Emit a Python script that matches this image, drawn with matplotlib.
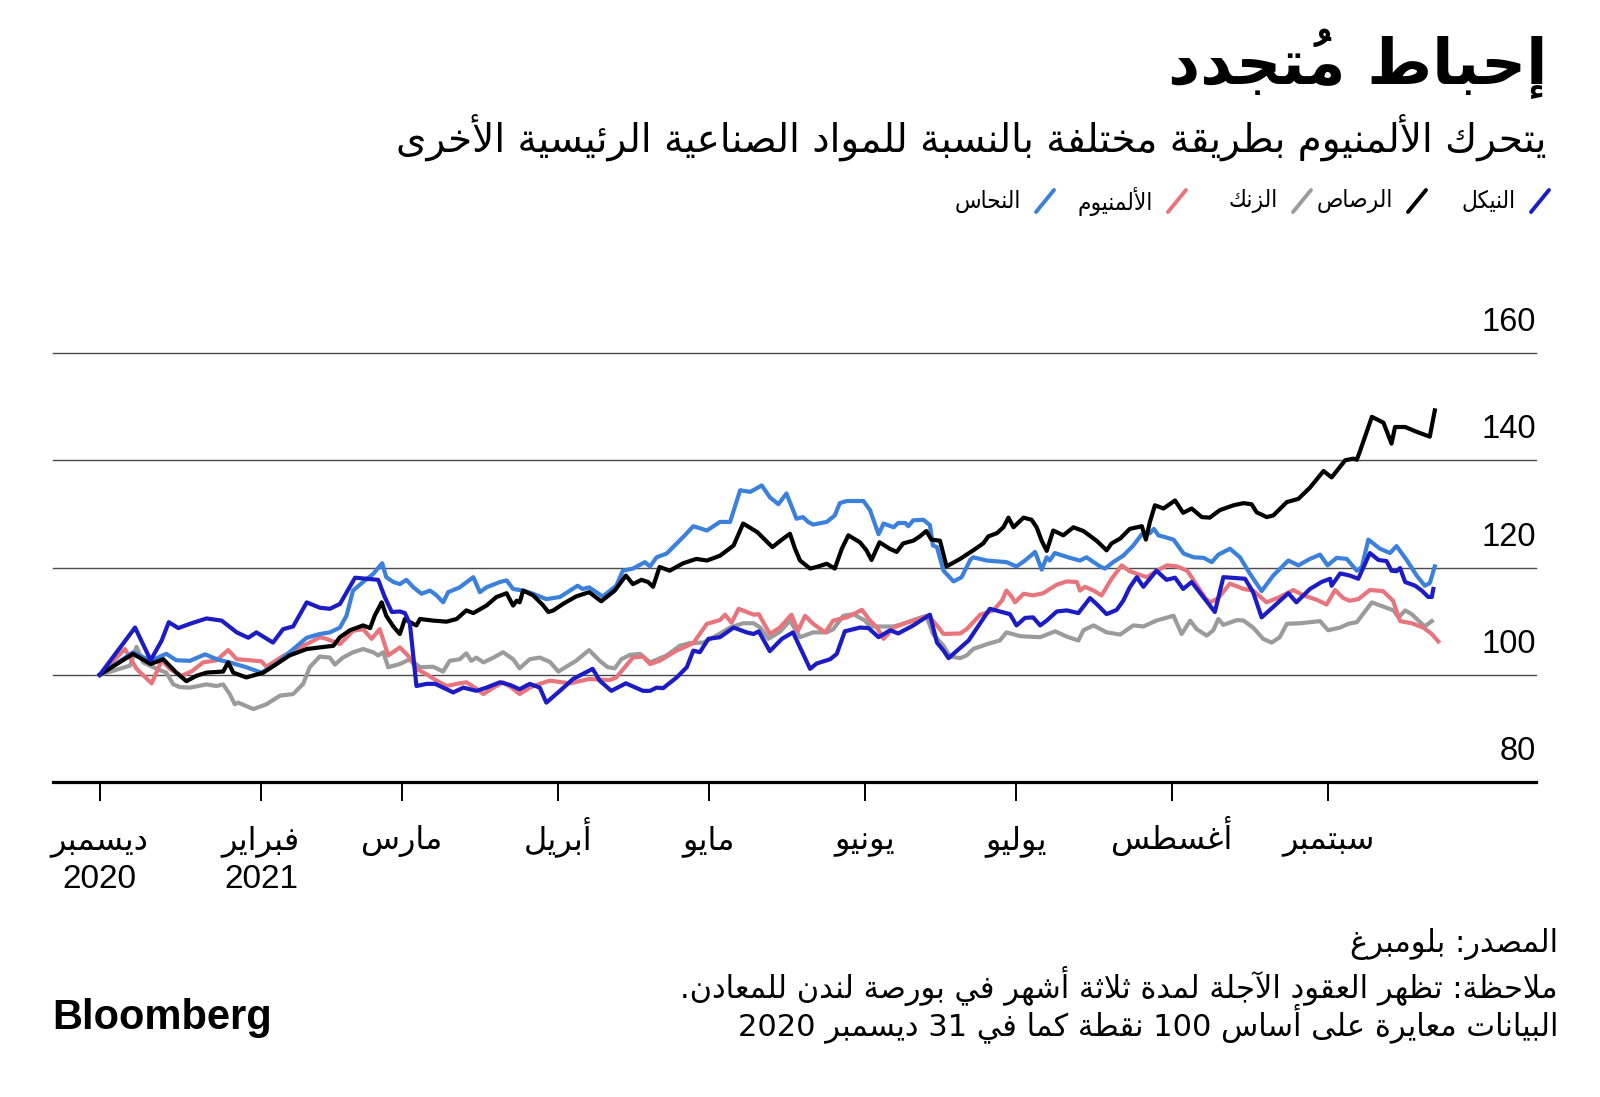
import matplotlib
matplotlib.use("Agg")
import matplotlib.pyplot as plt
import matplotlib.transforms as mtransforms
from matplotlib import font_manager as fm
from matplotlib.ft2font import FT2Font
from matplotlib.lines import Line2D
import pandas as pd

# ---- arabic shaping (matplotlib has no complex text layout) ----
BASE = {
    '\u0621': 0xFE80, '\u0622': 0xFE81, '\u0623': 0xFE83, '\u0624': 0xFE85,
    '\u0625': 0xFE87, '\u0626': 0xFE89, '\u0627': 0xFE8D, '\u0628': 0xFE8F,
    '\u0629': 0xFE93, '\u062A': 0xFE95, '\u062B': 0xFE99, '\u062C': 0xFE9D,
    '\u062D': 0xFEA1, '\u062E': 0xFEA5, '\u062F': 0xFEA9, '\u0630': 0xFEAB,
    '\u0631': 0xFEAD, '\u0632': 0xFEAF, '\u0633': 0xFEB1, '\u0634': 0xFEB5,
    '\u0635': 0xFEB9, '\u0636': 0xFEBD, '\u0637': 0xFEC1, '\u0638': 0xFEC5,
    '\u0639': 0xFEC9, '\u063A': 0xFECD, '\u0641': 0xFED1, '\u0642': 0xFED5,
    '\u0643': 0xFED9, '\u0644': 0xFEDD, '\u0645': 0xFEE1, '\u0646': 0xFEE5,
    '\u0647': 0xFEE9, '\u0648': 0xFEED, '\u0649': 0xFEEF, '\u064A': 0xFEF1,
}
RIGHT_ONLY = set('\u0622\u0623\u0624\u0625\u0627\u0629\u062F\u0630\u0631\u0632\u0648\u0649')
LAM_ALEF = {'\u0622': 0xFEF5, '\u0623': 0xFEF7, '\u0625': 0xFEF9, '\u0627': 0xFEFB}
MARKS = set(chr(c) for c in range(0x064B, 0x0653))


def jtype(item):
    kind, c, _ = item
    if kind == 'LA':
        return 'R'
    if c in BASE:
        if c == '\u0621':
            return 'U'
        return 'R' if c in RIGHT_ONLY else 'D'
    return 'U'


def shape_line(text):
    items = []
    i = 0
    while i < len(text):
        c = text[i]
        if c in MARKS and items:
            items[-1][2] += c
        elif c == '\u0644' and i + 1 < len(text) and text[i + 1] in LAM_ALEF:
            items.append(['LA', text[i + 1], ''])
            i += 1
        else:
            items.append(['C', c, ''])
        i += 1
    glyphs = []
    for k, it in enumerate(items):
        t = jtype(it)
        prev_j = k > 0 and jtype(items[k - 1]) == 'D' and t in ('D', 'R')
        next_j = t == 'D' and k + 1 < len(items) and jtype(items[k + 1]) in ('D', 'R')
        kind, c, marks = it
        if kind == 'LA':
            g = chr(LAM_ALEF[c] + (1 if prev_j else 0))
        elif c in BASE:
            b = BASE[c]
            if t == 'D':
                if prev_j and next_j:
                    b += 3
                elif next_j:
                    b += 2
                elif prev_j:
                    b += 1
            elif t == 'R' and prev_j:
                b += 1
            g = chr(b)
        else:
            g = c
        # zero-width mark drawn first so the base glyph sits under it
        glyphs.append((marks + g, c.isascii() and c.isalnum()))
    # simple bidi: rtl paragraph, ltr runs of digits/latin kept in order
    runs = []
    for g, ltr in glyphs:
        if runs and runs[-1][0] == ltr:
            runs[-1][1].append(g)
        else:
            runs.append((ltr, [g]))
    out = ''
    for ltr, gs in reversed(runs):
        out += ''.join(gs) if ltr else ''.join(reversed(gs))
    return out


def ar(text):
    return '\n'.join(shape_line(l) for l in text.split('\n'))


# ---- data: days since 31 Dec 2020, index (31 Dec 2020 = 100) ----
nickel_days = [0, 7.0, 10.1, 12.3, 13.7, 15.6, 17.9, 21.2, 24.2, 27.2, 29.5, 31.1, 34.4, 36.4,
               38.4, 41.1, 43.7, 45.7, 47.7, 50.7, 55.3, 56.6, 58.0, 59.6, 60.6, 61.6, 62.9,
               64.9, 66.6, 68.2, 70.2, 72.2, 74.8, 76.8, 79.5, 81.5, 83.4, 85.4, 87.4, 88.7,
               91.4, 94.0, 97.9, 99.3, 101.6, 104.5, 107.9, 109.3, 110.6, 111.9, 114.6, 116.6,
               117.9, 119.2, 120.9, 123.2, 125.9, 128.5, 129.9, 130.9, 133.1, 135.5, 137.7,
               141.1, 142.4, 145.1, 146.4, 148.0, 151.0, 152.7, 154.7, 157.0, 158.6, 161.6,
               164.9, 166.3, 167.6, 168.6, 172.6, 176.8, 180.8, 182.1, 183.8, 185.4, 186.8,
               188.1, 190.1, 192.1, 194.4, 196.7, 198.0, 200.0, 202.0, 203.3, 204.6, 206.0,
               207.3, 209.9, 211.9, 213.6, 215.2, 216.9, 219.2, 221.5, 223.2, 227.5, 229.1,
               230.8, 233.4, 236.1, 237.7, 240.4, 242.7, 244.4, 244.7, 246.4, 248.3, 250.0,
               252.3, 254.0, 255.6, 256.6, 257.6, 258.3, 259.3, 261.3, 262.6, 263.9, 264.6,
               264.9]
nickel = [100, 108.8, 102.7, 106.4, 109.8, 108.7, 109.5, 110.5, 110.1, 107.9, 106.9, 107.9,
          106.0, 108.5, 109.0, 113.5, 112.5, 112.3, 113.2, 118.1, 117.7, 114.5, 111.7, 111.8,
          111.5, 109.5, 97.9, 98.3, 98.3, 97.6, 96.7, 97.6, 97.0, 97.6, 98.6, 98.1, 97.3, 98.3,
          97.6, 94.8, 97.0, 99.2, 101.1, 98.9, 97.0, 98.4, 97.0, 97.0, 97.6, 97.5, 99.5, 101.4,
          104.5, 104.2, 106.7, 107.0, 108.8, 107.9, 107.6, 108.1, 104.4, 106.7, 107.9, 101.1,
          102.1, 102.9, 103.9, 108.1, 108.8, 108.7, 107.0, 108.3, 107.7, 109.2, 111.2, 106.0,
          104.5, 103.1, 106.4, 112.3, 111.3, 109.2, 110.6, 110.7, 109.2, 110.1, 111.8, 112.0,
          111.5, 114.3, 113.2, 111.3, 112.1, 113.8, 116.3, 118.2, 116.4, 119.4, 117.7, 118.1,
          116.0, 117.3, 114.5, 111.7, 118.2, 117.9, 115.4, 110.7, 112.9, 115.2, 113.5, 116.0,
          117.3, 117.9, 116.6, 118.9, 118.5, 117.9, 122.7, 121.4, 121.2, 119.4, 119.3, 119.9,
          117.3, 116.6, 115.7, 114.5, 114.5, 116.0]

lead_days = [0, 6.6, 10.1, 12.6, 15.2, 17.2, 19.2, 21.2, 24.5, 25.5, 26.5, 29.1, 32.5, 35.1,
             37.7, 41.1, 43.7, 46.4, 47.7, 49.7, 52.3, 53.7, 54.6, 56.0, 56.9, 58.3, 59.6, 60.6,
             61.6, 62.9, 63.6, 66.2, 68.9, 70.9, 72.8, 74.2, 76.8, 78.8, 80.8, 82.1, 82.8, 83.4,
             84.1, 86.1, 88.1, 89.1, 90.1, 92.0, 94.6, 97.2, 99.6, 102.3, 104.5, 105.9, 107.6,
             108.9, 109.9, 111.2, 113.2, 115.9, 118.5, 120.6, 123.2, 125.9, 127.8, 130.6, 133.6,
             135.5, 137.1, 138.1, 139.1, 141.1, 142.4, 144.4, 146.0, 147.4, 148.7, 151.0, 152.3,
             153.3, 154.9, 156.9, 158.3, 159.6, 161.6, 162.9, 164.2, 165.2, 166.9, 168.2, 170.9,
             173.5, 175.5, 176.5, 178.2, 179.5, 180.5, 181.5, 183.5, 185.1, 186.1, 187.1, 188.1,
             189.4, 191.4, 193.4, 195.4, 198.0, 200.0, 201.0, 202.7, 204.6, 207.0, 207.8, 208.6,
             209.6, 211.3, 213.6, 215.2, 216.9, 218.9, 220.5, 222.5, 225.2, 227.2, 228.8, 229.8,
             231.8, 233.1, 235.8, 238.1, 240.4, 243.1, 244.7, 247.4, 249.0, 249.7, 250.3, 252.7,
             255.0, 256.6, 257.3, 259.3, 261.6, 264.2, 265.2]
lead = [100, 103.9, 102.0, 102.9, 100.4, 98.8, 99.8, 100.4, 100.6, 102.3, 100.4, 99.5, 100.4,
        102.0, 103.6, 104.8, 105.1, 105.4, 107.0, 108.3, 109.2, 108.7, 111.0, 113.5, 111.0, 109.0,
        107.6, 110.4, 109.8, 109.2, 110.4, 110.1, 109.9, 110.4, 112.0, 111.5, 112.9, 114.5, 115.2,
        112.9, 113.8, 113.5, 115.7, 114.8, 112.9, 111.7, 112.0, 113.2, 114.6, 115.4, 113.7, 115.7,
        118.5, 116.9, 117.7, 117.3, 116.4, 120.1, 119.4, 120.8, 121.6, 121.3, 122.2, 124.1, 128.2,
        126.6, 123.8, 125.2, 126.3, 123.5, 121.3, 119.8, 120.1, 120.7, 119.8, 123.5, 126.0, 124.7,
        123.2, 121.4, 124.7, 123.5, 122.9, 124.5, 125.0, 125.8, 126.8, 125.2, 125.0, 120.2, 121.6,
        123.2, 124.5, 125.8, 126.4, 127.5, 129.3, 127.5, 129.3, 128.9, 127.5, 125.0, 123.1, 126.9,
        126.0, 127.5, 126.8, 125.0, 123.2, 124.5, 125.4, 127.2, 127.7, 125.2, 128.5, 131.6, 131.0,
        132.5, 130.2, 131.0, 129.4, 129.3, 130.7, 131.6, 132.0, 131.8, 130.3, 129.4, 129.7, 132.2,
        132.8, 134.9, 138.0, 136.8, 140.0, 140.3, 140.1, 141.6, 148.1, 147.0, 143.1, 146.2, 146.2,
        145.3, 144.4, 149.3]

zinc_days = [0, 6.0, 7.3, 8.6, 11.3, 13.2, 14.6, 15.9, 17.9, 21.2, 23.2, 24.5, 25.8, 26.8, 27.5,
             30.5, 33.1, 35.8, 38.4, 40.4, 41.7, 43.7, 45.7, 46.7, 48.3, 50.3, 52.3, 54.3, 55.3,
             56.3, 57.3, 59.6, 61.6, 63.6, 66.2, 68.2, 69.5, 71.5, 72.8, 73.8, 74.8, 76.2, 78.2,
             80.1, 82.1, 83.4, 85.4, 87.4, 89.4, 91.1, 94.6, 97.2, 99.3, 100.9, 102.3, 103.6,
             105.3, 107.3, 109.3, 112.6, 115.2, 117.2, 119.9, 122.5, 125.2, 127.8, 129.9, 131.2,
             132.8, 135.1, 137.1, 139.1, 141.7, 144.4, 145.7, 147.7, 149.7, 152.0, 153.0, 157.7,
             159.6, 161.6, 164.2, 165.5, 167.6, 168.9, 170.9, 172.2, 173.5, 176.2, 178.8, 180.1,
             182.8, 186.8, 189.8, 192.1, 194.4, 195.4, 197.4, 200.0, 202.7, 205.3, 207.3, 209.9,
             213.3, 214.9, 216.6, 217.9, 219.9, 221.2, 222.2, 223.2, 225.9, 227.2, 229.1, 231.1,
             232.8, 234.4, 235.8, 238.4, 242.4, 244.0, 246.4, 248.0, 249.7, 252.7, 255.0, 257.0,
             258.0, 259.3, 260.6, 263.2, 264.6]
zinc = [100, 101.7, 105.2, 102.3, 101.1, 100.4, 98.2, 97.7, 97.6, 98.2, 97.9, 98.2, 96.4, 94.5,
        94.8, 93.6, 94.5, 96.1, 96.4, 98.3, 101.4, 103.4, 103.2, 101.9, 103.2, 104.2, 104.8, 104.2,
        103.6, 104.2, 101.4, 102.0, 102.9, 101.4, 101.5, 100.6, 102.6, 102.9, 104.0, 102.6, 103.2,
        102.3, 103.2, 104.2, 102.9, 101.2, 102.9, 103.2, 102.4, 100.6, 102.6, 104.6, 102.6, 101.4,
        101.2, 102.9, 103.7, 103.9, 102.3, 103.6, 105.4, 105.9, 106.0, 107.3, 108.8, 109.6, 109.6,
        108.8, 106.7, 108.0, 110.1, 107.0, 107.9, 107.9, 108.5, 111.0, 111.3, 110.1, 109.0, 109.0,
        109.5, 110.2, 111.0, 107.6, 105.4, 103.4, 103.1, 103.6, 104.8, 105.7, 106.4, 107.9, 107.2,
        107.0, 108.1, 107.1, 106.4, 108.3, 109.2, 107.9, 107.5, 109.2, 109.0, 110.1, 111.0, 107.6,
        110.1, 108.5, 107.3, 108.3, 110.4, 109.3, 110.2, 110.1, 108.8, 106.7, 106.0, 107.0, 109.5,
        109.6, 110.0, 108.3, 108.8, 109.5, 109.8, 113.5, 112.7, 112.0, 110.7, 112.0, 111.3, 109.0,
        110.0]

aluminium_days = [0, 5.0, 7.3, 10.3, 12.3, 13.9, 16.2, 18.2, 20.5, 23.2, 25.5, 27.2, 29.8, 32.1,
                  33.1, 36.4, 39.1, 41.7, 43.7, 45.0, 47.7, 50.3, 52.3, 54.0, 55.6, 57.3, 59.6,
                  61.2, 62.9, 64.9, 66.9, 68.9, 70.9, 72.8, 74.5, 76.2, 78.2, 80.1, 81.8, 83.4,
                  85.4, 87.4, 89.4, 93.4, 97.2, 101.3, 102.6, 105.9, 107.9, 109.3, 111.2, 114.6,
                  117.9, 120.6, 123.2, 124.2, 125.5, 126.9, 129.9, 130.9, 133.1, 135.1, 137.4,
                  138.7, 140.1, 141.7, 144.1, 145.7, 148.4, 151.4, 153.0, 154.4, 155.7, 157.7,
                  159.6, 161.6, 164.6, 166.3, 167.6, 170.9, 172.2, 174.9, 177.5, 179.2, 180.1,
                  181.2, 181.8, 183.5, 185.4, 187.4, 190.1, 192.1, 194.1, 194.7, 195.7, 197.4,
                  199.0, 201.0, 203.0, 204.6, 207.0, 208.0, 210.0, 212.0, 214.0, 216.0, 217.3,
                  219.6, 220.6, 222.2, 224.5, 227.2, 229.1, 231.8, 234.4, 237.1, 239.1, 241.7,
                  243.7, 245.4, 247.0, 248.3, 250.0, 252.3, 254.9, 256.9, 258.3, 260.6, 262.9,
                  264.6, 265.9]
aluminium = [100, 104.8, 101.1, 98.4, 102.7, 101.1, 99.8, 100.6, 102.3, 102.7, 104.6, 102.9,
             102.7, 102.5, 101.5, 103.5, 104.8, 106.0, 107.0, 106.7, 105.7, 108.2, 108.5, 106.7,
             108.5, 103.6, 105.1, 103.6, 101.1, 100.1, 98.9, 97.9, 98.3, 98.6, 97.6, 96.4, 97.6,
             98.6, 97.6, 96.4, 97.6, 98.3, 98.9, 98.4, 99.2, 99.0, 99.5, 103.2, 103.4, 102.0, 102.6,
             104.5, 105.9, 109.5, 110.2, 111.2, 109.7, 112.3, 111.2, 111.3, 107.6, 108.8, 111.2,
             108.2, 111.0, 109.5, 107.9, 110.1, 110.7, 112.1, 110.1, 108.8, 106.7, 108.8, 109.5,
             110.1, 111.0, 109.2, 107.6, 107.7, 108.5, 111.2, 112.0, 113.8, 115.7, 114.5, 113.5,
             115.1, 114.8, 115.2, 116.8, 117.4, 117.3, 115.7, 116.4, 115.7, 114.8, 117.9, 120.4,
             119.3, 118.5, 118.2, 119.4, 120.4, 120.2, 119.4, 117.6, 114.3, 113.5, 114.3, 117.0,
             116.0, 115.7, 113.5, 114.5, 115.8, 114.8, 114.0, 113.1, 115.8, 114.3, 113.8, 114.1,
             115.8, 115.6, 113.8, 110.0, 109.6, 108.8, 107.6, 106.2]

copper_days = [0, 6.6, 10.1, 13.2, 15.2, 17.9, 20.9, 23.5, 25.8, 29.1, 32.1, 35.1, 37.7, 41.1,
               43.7, 45.7, 47.7, 49.0, 50.3, 52.3, 54.3, 56.1, 56.9, 58.3, 59.6, 60.9, 62.3,
               63.9, 65.6, 66.9, 68.2, 69.2, 71.5, 74.2, 75.5, 76.8, 79.5, 80.8, 82.1, 84.1,
               86.1, 88.7, 91.4, 94.9, 95.9, 97.2, 99.9, 102.6, 103.9, 105.9, 108.3, 109.3,
               110.6, 112.6, 115.9, 117.9, 120.6, 123.2, 125.2, 127.2, 129.2, 131.5, 133.1,
               134.8, 136.4, 138.4, 139.7, 140.7, 141.7, 144.4, 146.0, 147.0, 148.4, 151.7,
               153.0, 154.7, 155.7, 157.7, 158.6, 160.0, 160.6, 161.6, 163.6, 164.9, 165.5,
               166.3, 167.6, 169.6, 171.2, 172.9, 173.5, 176.2, 180.1, 182.1, 183.8, 185.8,
               187.1, 188.1, 188.7, 189.7, 192.7, 194.7, 196.0, 198.7, 199.7, 201.3, 203.3,
               205.3, 207.0, 208.6, 209.4, 210.3, 213.3, 215.3, 217.3, 219.3, 220.9, 222.2,
               224.5, 226.5, 228.5, 230.8, 233.1, 236.1, 238.1, 240.4, 242.4, 243.9, 245.7,
               247.7, 249.7, 250.7, 252.0, 254.3, 256.3, 257.6, 259.6, 261.6, 263.2, 264.2,
               265.2]
copper = [100, 104.2, 102.6, 103.9, 102.7, 102.6, 103.8, 102.8, 102.3, 101.4, 100.4, 102.0,
          104.2, 106.9, 107.6, 107.9, 108.8, 111.0, 115.7, 117.3, 118.8, 120.8, 118.2, 117.3,
          116.9, 117.7, 116.3, 115.1, 115.7, 114.8, 113.5, 115.4, 116.3, 118.2, 115.4, 116.3,
          117.3, 117.6, 116.0, 115.7, 115.1, 114.1, 114.5, 116.6, 116.0, 116.3, 114.6, 116.6,
          119.4, 119.8, 121.0, 120.2, 121.9, 122.6, 125.7, 127.7, 126.9, 128.5, 128.5, 134.4,
          134.1, 135.3, 133.1, 131.8, 133.8, 129.1, 129.4, 128.5, 128.0, 128.5, 129.7, 132.0,
          132.4, 132.4, 130.7, 126.2, 128.2, 127.5, 128.3, 128.3, 127.7, 128.8, 128.9, 127.9,
          124.1, 123.8, 119.4, 117.4, 118.2, 121.4, 121.9, 121.3, 121.0, 120.2, 121.3, 122.9,
          119.6, 121.9, 121.3, 122.7, 121.8, 121.3, 121.9, 120.2, 119.8, 121.0, 122.2, 124.1,
          126.2, 126.4, 127.2, 126.0, 125.2, 122.6, 121.9, 121.8, 121.0, 122.4, 123.5, 121.9,
          118.8, 115.6, 118.5, 121.3, 120.4, 121.6, 122.4, 120.4, 121.8, 121.6, 119.4, 120.1,
          125.2, 123.5, 122.7, 124.0, 121.4, 118.5, 116.6, 117.1, 120.2]

start_date = pd.Timestamp("2020-12-31")
tick_dates = ["2020-12-31", "2021-02-01", "2021-03-01", "2021-04-01", "2021-05-01",
              "2021-06-01", "2021-07-01", "2021-08-01", "2021-09-01"]
tick_months = ["ديسمبر", "فبراير", "مارس", "أبريل", "مايو", "يونيو",
               "يوليو", "أغسطس", "سبتمبر"]
tick_years = ["2020", "2021", "", "", "", "", "", "", ""]
y_ticks = [80, 100, 120, 140, 160]

series = [
    ("الزنك", zinc_days, zinc, "#9b9b9b"),
    ("الألمنيوم", aluminium_days, aluminium, "#e8747c"),
    ("النحاس", copper_days, copper, "#3b80db"),
    ("الرصاص", lead_days, lead, "#000000"),
    ("النيكل", nickel_days, nickel, "#1c1cc4"),
]
legend_order = ["النيكل", "الرصاص", "الزنك", "الألمنيوم", "النحاس"]

AR = ["DejaVu Sans"]
NUM = ["Liberation Sans", "DejaVu Sans"]

# the legend labels are narrow in the original; use DejaVu condensed if it has arabic
cond_path = fm.findfont(fm.FontProperties(family="DejaVu Sans", stretch="condensed"))
try:
    has_cond = "Condensed" in cond_path and FT2Font(cond_path).get_char_index(0xFEDF) != 0
except Exception:
    has_cond = False
leg_stretch = "condensed" if has_cond else "normal"
leg_size = 17.5 if has_cond else 15

W, H = 1600, 1097
fig = plt.figure(figsize=(W / 100, H / 100), dpi=100)


def fx(x):
    return x / W


def fy(y):
    return 1 - y / H


ax = fig.add_axes([fx(53), fy(782), fx(1536) - fx(53), fy(353) - fy(782)])


def to_dates(days):
    return start_date + pd.to_timedelta(days, unit="D")


for name, d, v, col in series:
    ax.plot(to_dates(d), v, color=col, lw=3.0, solid_joinstyle="round", zorder=3)

ax.set_ylim(80, 160)
ax.set_xlim(to_dates([-9.3])[0], to_dates([285.3])[0])
for s in ["top", "right", "left"]:
    ax.spines[s].set_visible(False)
ax.spines["bottom"].set_linewidth(2.3)
ax.spines["bottom"].set_color("black")
for yv in y_ticks[1:]:
    ax.axhline(yv, color="#4a4a4a", lw=1.0, zorder=1, clip_on=False)

ax.set_yticks([])
tick_pos = pd.to_datetime(tick_dates)
ax.set_xticks(tick_pos)
ax.set_xticklabels([])
ax.tick_params(axis="x", length=14, width=1.4, color="black")

# month / year labels on a shared baseline
month_tr = mtransforms.offset_copy(ax.get_xaxis_transform(), fig=fig, y=-67, units="dots")
year_tr = mtransforms.offset_copy(ax.get_xaxis_transform(), fig=fig, y=-106, units="dots")
for pos, m, yr in zip(tick_pos, tick_months, tick_years):
    ax.text(pos, 0, ar(m), transform=month_tr, ha="center", va="baseline",
            family=AR, fontsize=23, clip_on=False)
    if yr:
        ax.text(pos, 0, yr, transform=year_tr, ha="center", va="baseline",
                family=NUM, fontsize=24, clip_on=False)

lab_tr = mtransforms.offset_copy(ax.get_yaxis_transform(), fig=fig, y=22, units="dots")
for yv in y_ticks:
    ax.text(1.0, yv, str(yv), transform=lab_tr, ha="right", va="baseline",
            fontsize=23.5, family=NUM, color="black")

# title / subtitle
fig.text(fx(1547), fy(64), ar("إحباط مُتجدد"), ha="right", va="center",
         family=AR, fontsize=45, fontweight="bold")
fig.text(fx(1547), fy(138), ar("يتحرك الألمنيوم بطريقة مختلفة بالنسبة للمواد الصناعية الرئيسية الأخرى"),
         ha="right", va="center", family=AR, fontsize=28)

# legend (drawn right to left like the original)
legend_x = {"النيكل": 1531, "الرصاص": 1408, "الزنك": 1293, "الألمنيوم": 1168, "النحاس": 1036}
colors = {n: c for n, _, _, c in series}
for name in legend_order:
    x0 = legend_x[name]
    fig.add_artist(Line2D([fx(x0), fx(x0 + 18)], [fy(212), fy(190)], transform=fig.transFigure,
                          color=colors[name], lw=2.8, solid_capstyle="round"))
    fig.text(fx(x0 - 15), fy(201), ar(name), ha="right", va="center", family=AR,
             fontsize=leg_size, fontstretch=leg_stretch)

# footer
fig.text(fx(1558), fy(944), ar("المصدر: بلومبرغ"), ha="right", va="center",
         family=AR, fontsize=22)
fig.text(fx(1558), fy(986), ar("ملاحظة: تظهر العقود الآجلة لمدة ثلاثة أشهر في بورصة لندن للمعادن."),
         ha="right", va="center", family=AR, fontsize=22)
fig.text(fx(1558), fy(1023), ar("البيانات معايرة على أساس 100 نقطة كما في 31 ديسمبر 2020"),
         ha="right", va="center", family=AR, fontsize=22)
fig.text(fx(52), fy(1018), "Bloomberg", ha="left", va="center", family=NUM,
         fontsize=30, fontweight="bold")

fig.savefig("out.png", dpi=100, facecolor="white")
